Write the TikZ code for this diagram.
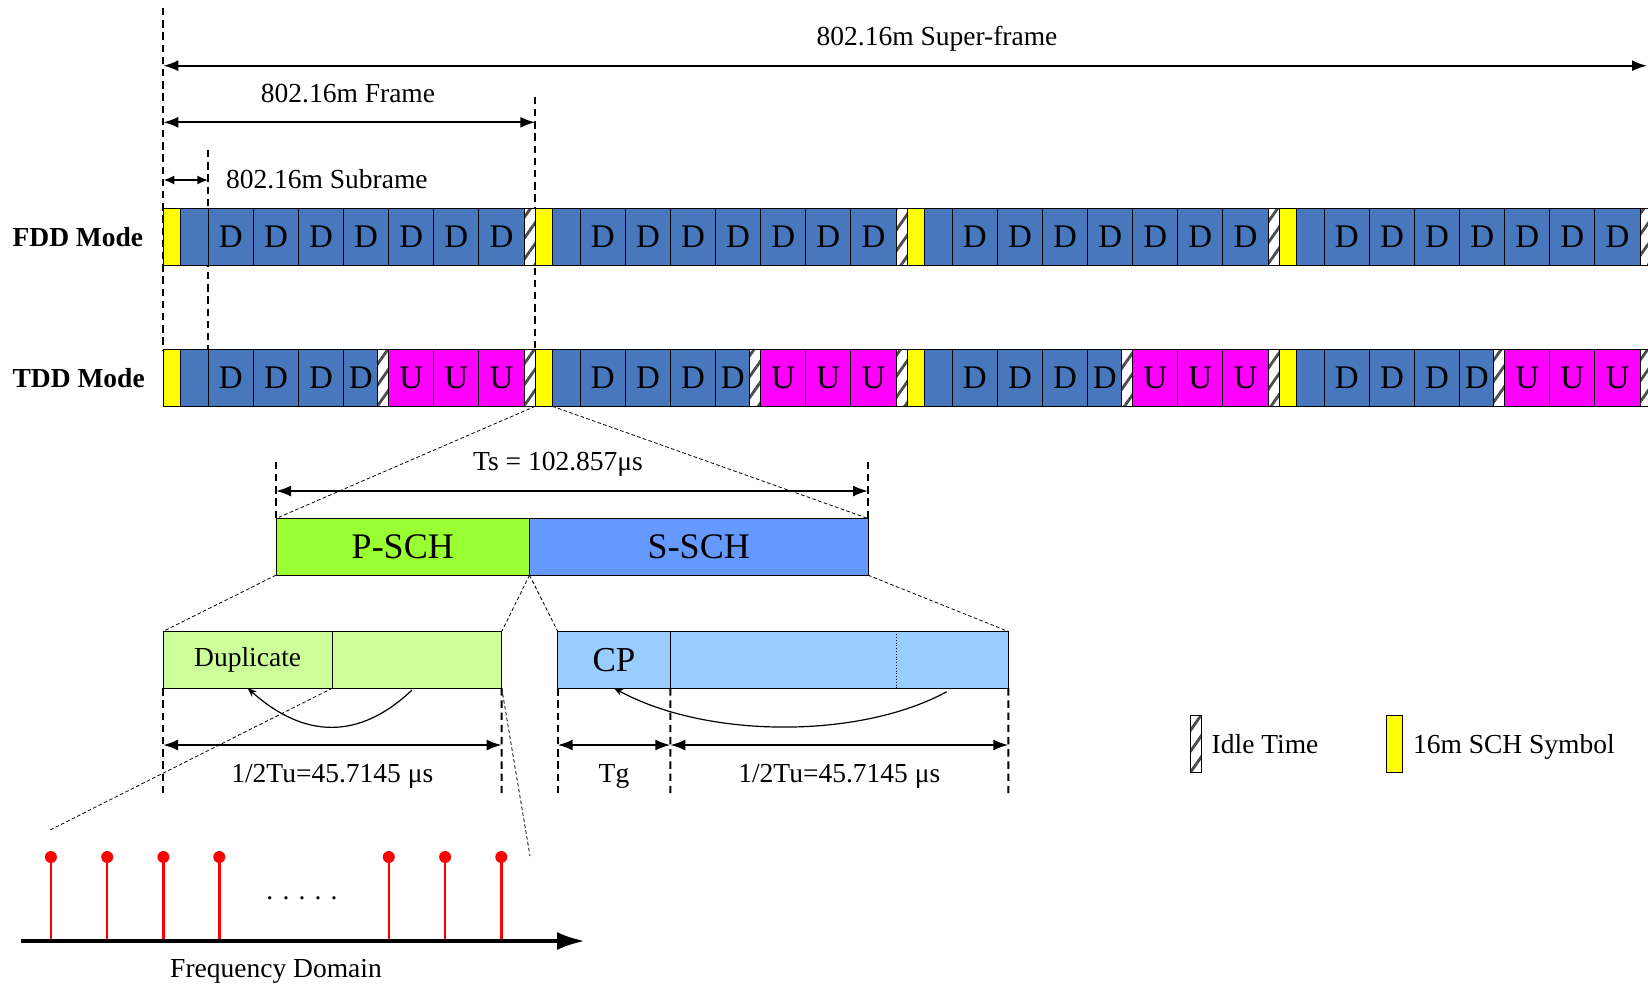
\documentclass[tikz,border=0pt]{standalone}
\usepackage{fontspec}
\setmainfont{Liberation Serif}
\usetikzlibrary{arrows.meta,patterns.meta,positioning,calc}

\definecolor{dlblue}{RGB}{71,120,190}
\definecolor{ulmag}{RGB}{255,0,255}
\definecolor{schyel}{RGB}{255,255,0}
\definecolor{pgreen}{RGB}{153,255,51}
\definecolor{sblue}{RGB}{102,153,255}
\definecolor{dupgreen}{RGB}{204,255,153}
\definecolor{cpblue}{RGB}{153,204,255}

\newcommand\px{0.5pt}
\pgfdeclarelayer{bg}
\pgfsetlayers{bg,main}

\begin{document}
\begin{tikzpicture}[
    x=0.5pt, y=-0.5pt,
    every node/.style={inner sep=0pt, outer sep=0pt, font=\fontsize{13.75}{16}\selectfont},
    slot/.style={draw=black, line width=0.5pt, minimum height=56.5*\px, anchor=west},
    dcell/.style={slot, fill=dlblue, minimum width=45.1*\px, font=\fontsize{16.5}{18}\selectfont},
    ucell/.style={dcell, fill=ulmag},
    blank/.style={slot, fill=dlblue, minimum width=28*\px},
    sch/.style={slot, fill=schyel, minimum width=17*\px},
    idle/.style={slot, minimum width=11.3*\px, preaction={fill=white},
        pattern={Lines[angle=55,distance=6pt,line width=1.4pt]}, pattern color=black!70},
    modelbl/.style={anchor=west, font=\fontsize{13.75}{16}\selectfont\bfseries},
    symbox/.style={draw=black, line width=0.5pt, minimum height=56.7*\px, anchor=west, font=\fontsize{18}{20}\selectfont},
    guide/.style={line width=1pt, dash pattern=on 3.7pt off 2.4pt},
    zoomline/.style={line width=0.4pt, dash pattern=on 1.8pt off 1.2pt},
    dim/.style={line width=1pt, {Latex[length=7.5pt,width=5.5pt]}-{Latex[length=7.5pt,width=5.5pt]}},
    copyarrow/.style={line width=0.6pt, -{Stealth[length=4.5pt,width=3.5pt]}},
    stem/.style={red, line width=1.2pt},
    stemdot/.style={circle, fill=red, minimum size=12*\px}
  ]
  \useasboundingbox (0,0) rectangle (1648,987);

  % frames of both modes
  \foreach \f in {0,...,3}{
    \pgfmathsetmacro\X{163.3+372*\f}
    % FDD
    \node[sch] (fs\f) at (\X,237) {};
    \node[blank] (fb\f) at (\X+17,237) {};
    \foreach \k in {0,...,6}
      \node[dcell] (fd\f\k) at (\X+45+45.1*\k,237) {D};
    \node[idle] (fi\f) at (\X+360.7,237) {};
    % TDD
    \node[sch] (ts\f) at (\X,378) {};
    \node[blank] (tb\f) at (\X+17,378) {};
    \foreach \k in {0,1,2}
      \node[dcell] (td\f\k) at (\X+45+45.1*\k,378) {D};
    \node[dcell, minimum width=34.2*\px] (td\f3) at (\X+180.3,378) {D};
    \node[idle] (tm\f) at (\X+214.5,378) {};
    \foreach \k in {4,5,6}
      \node[ucell] (tu\f\k) at (\X+45+45.1*\k,378) {U};
    \node[idle] (ti\f) at (\X+360.7,378) {};
  }

  \node[modelbl] (fddlbl) at (12.6,237) {FDD Mode};
  \node[modelbl] (tddlbl) at (12.6,378) {TDD Mode};

  % super-frame, frame, subframe
  \coordinate (sfTop) at (163.3,8);
  \coordinate (frTop) at (535.3,96.7);
  \coordinate (subTop) at (208.3,150);
  \begin{pgfonlayer}{bg}
    \draw[guide] (sfTop) -- (ts0.north west);
    \draw[guide] (subTop) -- (tb0.north east);
    \draw[guide] (frTop) -- (ts1.north west);
  \end{pgfonlayer}

  \coordinate (sfL) at (163.3,65.7);
  \coordinate (sfR) at (1647,65.7);
  \coordinate (frL) at (163.3,122.3);
  \coordinate (frR) at (535.3,122.3);
  \coordinate (subL) at (163.3,180);
  \coordinate (subR) at (208.3,180);
  \draw[dim] (sfL) -- (sfR);
  \draw[dim] (frL) -- (frR);
  \draw[dim, {Latex[length=5.5pt,width=4.5pt]}-{Latex[length=5.5pt,width=4.5pt]}] (subL) -- (subR);

  \node[anchor=base] (sftxt) at (937,45) {802.16m Super-frame};
  \node[anchor=base] (frtxt) at (348,102) {802.16m Frame};
  \node[anchor=base west] (subtxt) at (226,188) {802.16m Subrame};

  % SCH symbol
  \node[symbox, fill=pgreen, minimum width=253.5*\px] (psch) at (276,546.8) {P-SCH};
  \node[symbox, fill=sblue, minimum width=338.5*\px, right=0pt of psch] (ssch) {S-SCH};

  \coordinate (tsL) at (276,461.7);
  \coordinate (tsR) at (868,461.7);
  \draw[guide] (tsL) -- (psch.north west);
  \draw[guide] (tsR) -- (ssch.north east);
  \coordinate (tsaL) at (276,491);
  \coordinate (tsaR) at (868,491);
  \draw[dim] (tsaL) -- (tsaR);
  \node[anchor=base] (tstxt) at (558,470.5) {Ts = 102.857μs};

  \draw[zoomline] (ts1.south west) -- (psch.north west);
  \draw[zoomline] (ts1.south east) -- (ssch.north east);

  % P-SCH and S-SCH in time
  \node[symbox, fill=dupgreen, minimum width=169.3*\px, font=\fontsize{13.75}{16}\selectfont] (dup1) at (163,659.8) {Duplicate};
  \node[symbox, fill=dupgreen, minimum width=169.4*\px, right=0pt of dup1] (dup2) {};
  \node[symbox, fill=cpblue, minimum width=112.6*\px, font=\fontsize{17.5}{20}\selectfont] (cp) at (557.7,659.8) {CP};
  \node[symbox, fill=cpblue, minimum width=338*\px, right=0pt of cp] (cpbody) {};
  \draw[densely dotted, line width=0.4pt] ($(cpbody.north west)!0.668!(cpbody.north east)$)
    -- ($(cpbody.south west)!0.668!(cpbody.south east)$);

  \draw[zoomline] (psch.south west) -- (dup1.north west);
  \draw[zoomline] (psch.south east) -- (dup2.north east);
  \draw[zoomline] (psch.south east) -- (cp.north west);
  \draw[zoomline] (ssch.south east) -- (cpbody.north east);

  \coordinate (g1) at (163,795);
  \coordinate (g2) at (501.7,795);
  \coordinate (g3) at (557.7,795);
  \coordinate (g4) at (670.3,795);
  \coordinate (g5) at (1008.3,795);
  \draw[guide] (dup1.south west) -- (g1);
  \draw[guide] (dup2.south east) -- (g2);
  \draw[guide] (cp.south west) -- (g3);
  \draw[guide] (cp.south east) -- (g4);
  \draw[guide] (cpbody.south east) -- (g5);

  \coordinate (d1L) at (163,745);
  \coordinate (d1R) at (501.7,745);
  \coordinate (d2L) at (557.7,745);
  \coordinate (d2R) at (670.3,745);
  \coordinate (d3L) at (670.3,745);
  \coordinate (d3R) at (1008.3,745);
  \draw[dim] (d1L) -- (d1R);
  \draw[dim] (d2L) -- (d2R);
  \draw[dim] (d3L) -- (d3R);

  \node[anchor=base] (tuLtxt) at (332.3,782.7) {1/2Tu=45.7145 μs};
  \node[anchor=base] (tgtxt) at (614,782.7) {Tg};
  \node[anchor=base] (tuRtxt) at (839.3,782.7) {1/2Tu=45.7145 μs};

  \coordinate (cs1) at (412,690);
  \draw[copyarrow] (cs1) .. controls (360,739.5) and (305,739.5) .. (dup1.south);
  \coordinate (cs2) at (946.7,691.7);
  \draw[copyarrow] (cs2) .. controls (860,739) and (707,739) .. (cp.south);

  % frequency domain
  \coordinate (axL) at (21,941);
  \coordinate (axR) at (585,941);
  \foreach \sx [count=\i] in {50.9,107.2,163.4,219.3,388.8,445.1,501.3}{
    \coordinate (sb\i) at (\sx,941);
    \node[stemdot] (sd\i) at (\sx,857) {};
    \draw[stem] (sb\i) -- (sd\i.center);
  }
  \draw[line width=2pt, -{Latex[length=14pt,width=9pt]}] (axL) -- (axR);
  \node[anchor=base] (dots) at (302,899) {. . . . .};
  \node[anchor=base] (fdtxt) at (276,977) {Frequency Domain};

  \coordinate (fzL) at (50,830);
  \coordinate (fzR) at (530,856);
  \draw[zoomline] (dup1.south east) -- (fzL);
  \draw[zoomline] (dup2.south east) -- (fzR);

  % legend
  \node[idle, minimum height=56.7*\px, minimum width=11.7*\px] (lgidle) at (1190,744.3) {};
  \node[anchor=base west] (lgidletxt) at (1211.7,753.3) {Idle Time};
  \node[sch, minimum height=56.7*\px, minimum width=16.7*\px] (lgsch) at (1386,744.3) {};
  \node[anchor=base west] (lgschtxt) at (1413,753.3) {16m SCH Symbol};
\end{tikzpicture}
\end{document}
